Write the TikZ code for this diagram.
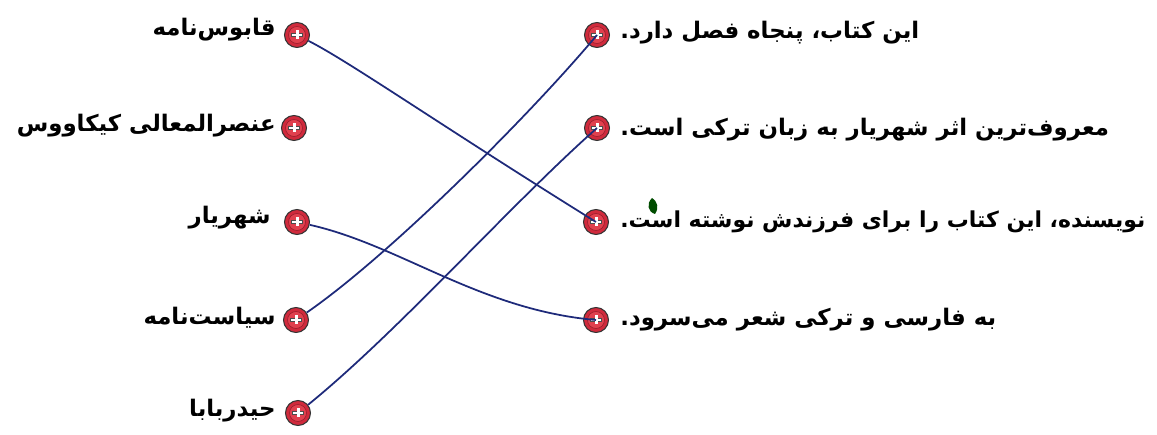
\documentclass[tikz,border=0pt]{standalone}
\usepackage{fontspec}
\TeXXeTstate=1
\newfontfamily\fa[Script=Arabic]{DejaVu Sans}
\definecolor{btnred}{HTML}{D02A3C}
\definecolor{btnin}{HTML}{E0404E}
\definecolor{linkblue}{HTML}{1E2A7A}
\begin{document}
\begin{tikzpicture}[x=0.02cm,y=-0.02cm,
  btn/.style={circle,draw=black!80,line width=0.6pt,fill=btnred,minimum size=0.5cm,inner sep=0pt,
    path picture={\draw[btnred!70!black,line width=0.3pt,fill=btnin] (path picture bounding box.center) circle (0.17cm);
      \fill[white,draw=black!70,line width=0.2pt] ([xshift=-0.11cm,yshift=-0.03cm]path picture bounding box.center) rectangle ([xshift=0.11cm,yshift=0.03cm]path picture bounding box.center);
      \fill[white] ([xshift=-0.03cm,yshift=-0.09cm]path picture bounding box.center) rectangle ([xshift=0.03cm,yshift=0.09cm]path picture bounding box.center);}},
  ltxt/.style={anchor=east,font=\fa\bfseries\fontsize{13}{16}\selectfont,inner sep=0pt},
  rtxt/.style={anchor=west,font=\fa\bfseries\fontsize{13}{16}\selectfont,inner sep=0pt},
  link/.style={draw=linkblue,line width=1pt}]
\useasboundingbox (0,0) rectangle (1157,435);
% left buttons
\node[btn] (L1) at (297,35) {};
\node[btn] (L2) at (294,128) {};
\node[btn] (L3) at (297,222) {};
\node[btn] (L4) at (296,320) {};
\node[btn] (L5) at (298,413) {};
% right buttons
\node[btn] (R1) at (597,35) {};
\node[btn] (R2) at (597,128) {};
\node[btn] (R3) at (596,222) {};
\node[btn] (R4) at (596,320) {};
% left labels
\node[ltxt] (t1) at (276,30) {\beginR قابوس‌نامه\endR};
\node[ltxt] (t2) at (276,126) {\beginR عنصرالمعالی کیکاووس\endR};
\node[ltxt] (t3) at (271,218) {\beginR شهریار\endR};
\node[ltxt] (t4) at (276,318) {\beginR سیاست‌نامه\endR};
\node[ltxt] (t5) at (276,411) {\beginR حیدربابا\endR};
% right labels
\node[rtxt] (s1) at (620,33) {\beginR این کتاب، پنجاه فصل دارد.\endR};
\node[rtxt] (s2) at (620,130) {\beginR معروف‌ترین اثر شهریار به زبان ترکی است.\endR};
\node[rtxt,font=\fa\bfseries\fontsize{12.5}{15}\selectfont] (s3) at (620,222) {\beginR نویسنده، این کتاب را برای فرزندش نوشته است.\endR};
\node[rtxt] (s4) at (620,320) {\beginR به فارسی و ترکی شعر می‌سرود.\endR};
% leaf mark
\fill[green!30!black] (652,198) .. controls (646,204) and (648,212) .. (655,214) .. controls (659,208) and (658,202) .. (652,198) -- cycle;
% connectors
\draw[link] (L1) .. controls (350,62) and (440,125) .. (R3.center);
\draw[link] (L4) .. controls (390,255) and (530,115) .. (R1.center);
\draw[link] (L5) .. controls (400,330) and (510,205) .. (R2.center);
\draw[link] (L3) .. controls (400,245) and (480,310) .. (R4.center);
\end{tikzpicture}
\end{document}
